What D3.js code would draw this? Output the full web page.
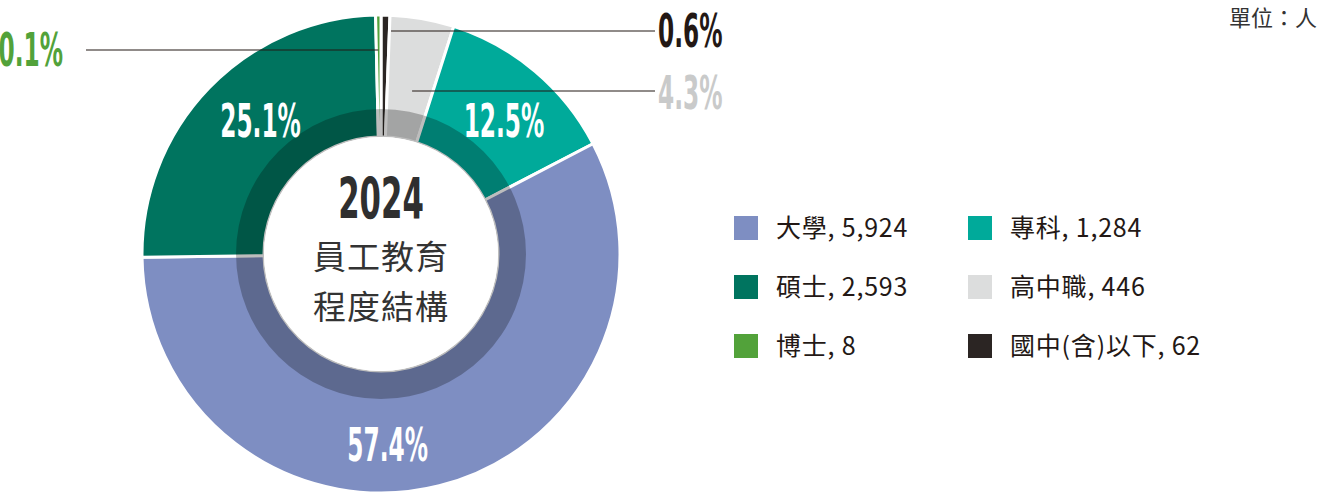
<!DOCTYPE html>
<html>
<head>
<meta charset="utf-8">
<script src="https://cdn.jsdelivr.net/npm/d3@7/dist/d3.min.js"></script>
<style>
  html, body { margin: 0; padding: 0; background: #ffffff; }
  svg { display: block; }
</style>
</head>
<body>
<svg id="chart" width="1320" height="500"></svg>
<script>
// ---- data (pie order, clockwise from 12 o'clock) ----
const categories = ["國中(含)以下", "高中職", "專科", "大學", "碩士", "博士"];
const values     = [62, 446, 1284, 5924, 2593, 8];
const colors     = ["#2b2523", "#dcdddd", "#00aa9a", "#7e8ec2", "#00745f", "#52a23a"];
const pctLabels  = ["0.6%", "4.3%", "12.5%", "57.4%", "25.1%", "0.1%"];
// legend order (row by row, two columns)
const legendOrder = ["大學", "專科", "碩士", "高中職", "博士", "國中(含)以下"];
const centerYear = "2024";
const centerTitle = ["員工教育", "程度結構"];
const unitText = "單位：人";

// ---- layout ----
const svg = d3.select("#chart");
const cx = 381, cy = 254;
const rOuter = 239, rInner = 117, rShade = 145;
const g = svg.append("g").attr("transform", `translate(${cx},${cy})`);

const pie = d3.pie().sort(null).value(d => d.value);
const data = categories.map((c, i) => ({ name: c, value: values[i], color: colors[i], pct: pctLabels[i] }));
const arcs = pie(data);

// keep very thin slices visible (display minimum width)
const minAngle = 1.3 * Math.PI / 180;
for (let i = arcs.length - 1; i > 0; i--) {
  const a = arcs[i];
  if (a.endAngle - a.startAngle < minAngle) {
    a.startAngle = a.endAngle - minAngle;
    arcs[i - 1].endAngle = a.startAngle;
  }
}

const arcGen = d3.arc().innerRadius(rInner).outerRadius(rOuter);
g.selectAll("path.slice")
  .data(arcs)
  .join("path")
  .attr("class", "slice")
  .attr("d", arcGen)
  .attr("fill", d => d.data.color)
  .attr("stroke", "#ffffff")
  .attr("stroke-width", 3)
  .attr("stroke-linejoin", "miter");

// darker inner ring overlay
g.append("path")
  .attr("d", d3.arc().innerRadius(rInner).outerRadius(rShade).startAngle(0).endAngle(2 * Math.PI)())
  .attr("fill", "#000000")
  .attr("fill-opacity", 0.26);

// white centre
g.append("circle").attr("r", rInner).attr("fill", "#ffffff");

// ---- percentage labels ----
const condensed = "'Liberation Sans Narrow', 'DejaVu Sans Condensed', 'Arial Narrow', sans-serif";
const sx = 0.55;

// inner labels: polar placement [angle in degrees, radius]
const innerLabelPos = { "專科": [42.5, 182], "大學": [178, 190], "碩士": [318, 180] };
arcs.forEach(a => {
  const p = innerLabelPos[a.data.name];
  if (!p) return;
  const [x, y] = d3.pointRadial(p[0] * Math.PI / 180, p[1]);
  g.append("g")
    .attr("transform", `translate(${x},${y}) scale(${sx},1)`)
    .append("text")
    .attr("text-anchor", "middle")
    .attr("dy", "0.36em")
    .attr("font-family", condensed)
    .attr("font-weight", "bold")
    .attr("font-size", 47)
    .attr("fill", "#ffffff")
    .text(a.data.pct);
});

// outer labels with leader lines
const outerLabels = {
  "博士":       { lineY: 50, lineR: 239, textX: 63,  anchor: "end",   textY: 49, color: "#52a23a", lineFrom: 86 },
  "國中(含)以下": { lineY: 31, lineR: 239, textX: 658, anchor: "start", textY: 30, color: "#231815", lineFrom: 655 },
  "高中職":      { lineY: 91, lineR: 180, textX: 658, anchor: "start", textY: 92, color: "#c9caca", lineFrom: 655 }
};
arcs.forEach(a => {
  const o = outerLabels[a.data.name];
  if (!o) return;
  let ex;
  if (a.data.name === "博士") {
    ex = cx + Math.sin((a.startAngle + a.endAngle) / 2) * rOuter;
  } else if (a.data.name === "國中(含)以下") {
    ex = cx + Math.sin(a.endAngle) * rOuter + 1;
  } else {
    ex = cx + Math.sin((a.startAngle + a.endAngle) / 2) * o.lineR;
  }
  svg.append("line")
    .attr("x1", o.lineFrom).attr("x2", ex)
    .attr("y1", o.lineY).attr("y2", o.lineY)
    .attr("stroke", "#231815").attr("stroke-width", 1.2);
  svg.append("g")
    .attr("transform", `translate(${o.textX},${o.textY}) scale(${sx},1)`)
    .append("text")
    .attr("text-anchor", o.anchor)
    .attr("dy", "0.36em")
    .attr("font-family", condensed)
    .attr("font-weight", "bold")
    .attr("font-size", 47)
    .attr("fill", o.color)
    .text(a.data.pct);
});

// ---- centre text ----
g.append("g")
  .attr("transform", `translate(0,-56) scale(0.6,1)`)
  .append("text")
  .attr("text-anchor", "middle")
  .attr("dy", "0.36em")
  .attr("font-family", condensed)
  .attr("font-weight", "bold")
  .attr("font-size", 57)
  .attr("fill", "#2f2f2f")
  .text(centerYear);

const cjk = "'Noto Sans CJK TC', 'Noto Sans CJK SC', sans-serif";
centerTitle.forEach((t, i) => {
  g.append("text")
    .attr("x", 0).attr("y", 3 + i * 50)
    .attr("text-anchor", "middle")
    .attr("dy", "0.35em")
    .attr("font-family", cjk)
    .attr("font-size", 33)
    .attr("letter-spacing", 1)
    .attr("fill", "#333333")
    .text(t);
});

// ---- unit ----
svg.append("text")
  .attr("x", 1317).attr("y", 26)
  .attr("text-anchor", "end")
  .attr("font-family", cjk)
  .attr("font-size", 22)
  .attr("fill", "#333333")
  .text(unitText);

// ---- legend ----
const fmt = d3.format(",");
const legend = svg.append("g");
legendOrder.forEach((name, i) => {
  const d = data.find(e => e.name === name);
  const col = i % 2, row = Math.floor(i / 2);
  const x = 734 + col * 234, y = 228 + row * 59;
  legend.append("rect")
    .attr("x", x).attr("y", y - 12)
    .attr("width", 24).attr("height", 24)
    .attr("fill", d.color);
  legend.append("text")
    .attr("x", x + 42).attr("y", y)
    .attr("dy", "0.35em")
    .attr("font-family", cjk)
    .attr("font-size", 25)
    .attr("letter-spacing", 0.8)
    .attr("fill", "#231815")
    .text(`${d.name}, ${fmt(d.value)}`);
});
</script>
</body>
</html>
